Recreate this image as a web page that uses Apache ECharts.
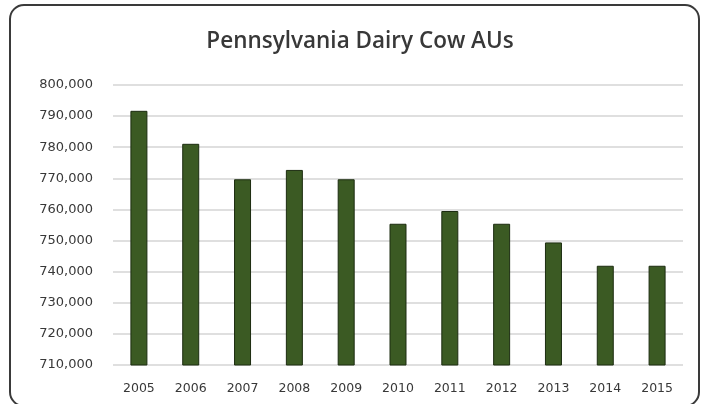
<!DOCTYPE html>
<html>
<head>
<meta charset="utf-8">
<script src="https://cdn.jsdelivr.net/npm/echarts@6/dist/echarts.min.js"></script>
<style>
  html, body { margin: 0; padding: 0; background: #ffffff; }
  #chart { width: 701px; height: 404px; }
</style>
</head>
<body>
<div id="chart"></div>
<script>
// Pennsylvania dairy cow animal units by year
const years = ['2005', '2006', '2007', '2008', '2009', '2010', '2011', '2012', '2013', '2014', '2015'];
const dairyAUs = [791700, 781100, 769700, 772700, 769700, 755400, 759500, 755400, 749400, 741900, 741900];

// Value axis range and step
const axisMin = 710000;
const axisMax = 800000;
const axisStep = 10000;

const chart = echarts.init(document.getElementById('chart'), null, { renderer: 'canvas' });

chart.setOption({
  backgroundColor: '#ffffff',
  animation: false,
  title: {
    text: 'Pennsylvania Dairy Cow AUs',
    left: 355,
    textAlign: 'center',
    top: 25,
    textStyle: {
      fontFamily: 'Open Sans',
      fontSize: 22.5,
      fontWeight: 600,
      color: '#383838'
    }
  },
  graphic: [{
    type: 'rect',
    silent: true,
    shape: { x: 10, y: 5, width: 689, height: 401, r: 14 },
    style: { fill: 'none', stroke: '#3a3a3a', lineWidth: 2 }
  }],
  grid: { left: 113, right: 18, top: 85, bottom: 39, containLabel: false },
  xAxis: {
    type: 'category',
    data: years,
    axisLine: { show: false },
    axisTick: { show: false },
    axisLabel: {
      margin: 17,
      fontFamily: 'DejaVu Sans',
      fontSize: 12.5,
      color: '#383838'
    }
  },
  yAxis: {
    type: 'value',
    min: axisMin,
    max: axisMax,
    interval: axisStep,
    axisLine: { show: false },
    axisTick: { show: false },
    splitLine: { lineStyle: { color: '#d4d4d4', width: 1.5 } },
    axisLabel: {
      margin: 20,
      fontFamily: 'DejaVu Sans',
      fontSize: 13,
      color: '#383838',
      formatter: v => v.toLocaleString('en-US')
    }
  },
  series: [{
    type: 'bar',
    data: dairyAUs,
    barWidth: 17,
    itemStyle: {
      color: '#3b5a23',
      borderColor: '#1c2c10',
      borderWidth: 1
    }
  }]
});
</script>
</body>
</html>
